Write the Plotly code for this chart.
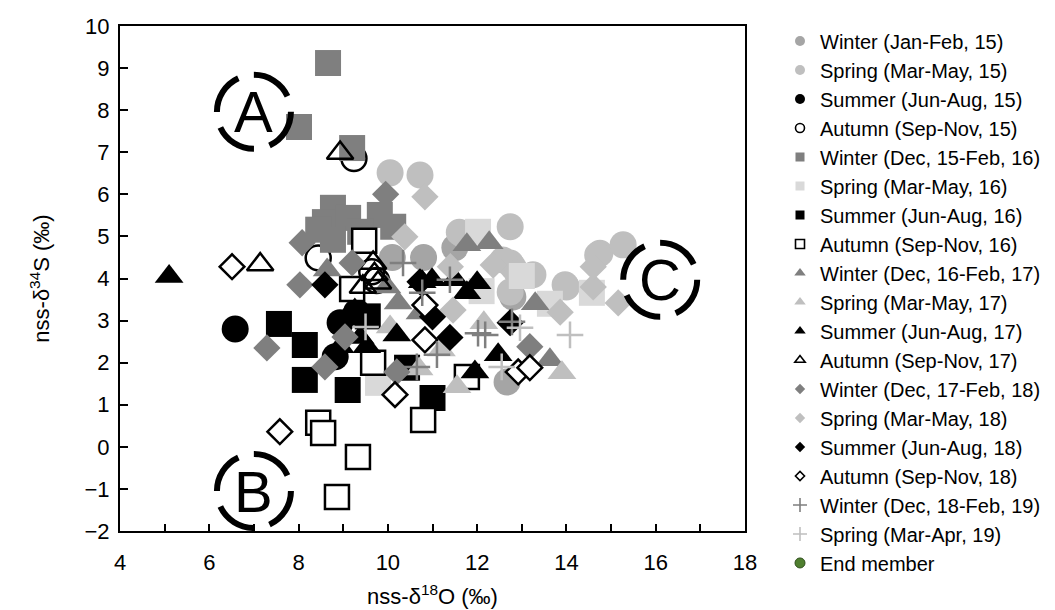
import plotly.graph_objects as go

# ---------------- data (x = nss-δ18O, y = nss-δ34S) ----------------
winter15_x = [10.1, 11.5, 12.8, 12.67, 10.8]
winter15_y = [4.5, 4.73, 3.56, 1.54, 4.5]
spring15_x = [10.05, 10.72, 12.74, 14.75, 15.27, 13.97, 12.8, 13.25, 11.68, 12.74, 14.0, 14.7, 11.6, 12.58, 12.9, 12.74]
spring15_y = [6.51, 6.46, 5.23, 4.6, 4.8, 3.85, 4.28, 4.09, 5.04, 4.37, 3.8, 4.56, 5.1, 4.44, 4.13, 3.68]
summer15_x = [6.58, 8.93, 8.82, 9.3]
summer15_y = [2.8, 2.95, 2.14, 3.2]
autumn15_x = [9.24, 8.44, 9.64, 9.75]
autumn15_y = [6.85, 4.49, 4.16, 3.95]

winter16_x = [8.66, 8.01, 9.2, 8.77, 8.59, 8.44, 9.11, 9.82, 10.12, 8.77, 9.38]
winter16_y = [9.12, 7.6, 7.1, 5.68, 5.34, 5.16, 5.44, 5.51, 5.23, 4.92, 5.11]
spring16_x = [12.02, 14.57, 13.0, 13.63, 9.78, 12.1]
spring16_y = [5.11, 3.66, 4.06, 3.4, 1.52, 3.7]
summer16_x = [7.56, 8.14, 8.14, 9.1, 10.43, 11.0, 9.55]
summer16_y = [2.92, 2.42, 1.59, 1.35, 1.88, 1.16, 3.1]
autumn16_x = [9.47, 9.2, 8.44, 8.55, 9.33, 8.86, 10.79, 11.77, 9.67]
autumn16_y = [4.9, 3.75, 0.57, 0.33, -0.24, -1.19, 0.64, 1.66, 2.0]

winter17_x = [11.77, 12.27, 13.3, 13.63, 8.64, 9.98, 10.23, 10.72]
winter17_y = [4.8, 4.85, 3.4, 2.07, 4.2, 3.8, 3.42, 3.18]
spring17_x = [13.9, 11.55, 12.15, 10.7, 10.05, 11.2]
spring17_y = [1.76, 1.43, 2.95, 1.85, 2.85, 2.3]
summer17_x = [5.1, 12.0, 10.99, 10.77, 11.5, 12.47, 11.95, 11.77, 10.2, 9.38, 9.26, 9.08, 8.93, 9.53]
summer17_y = [4.05, 3.9, 3.97, 3.92, 3.97, 2.19, 1.78, 3.66, 2.66, 2.6, 3.25, 3.09, 2.38, 2.38]
autumn17_x = [8.93, 7.14, 9.67, 9.78, 9.44, 9.7]
autumn17_y = [6.98, 4.33, 4.37, 3.9, 3.8, 4.1]

winter18_x = [9.95, 8.08, 8.03, 7.29, 9.2, 8.59, 10.2, 13.18, 9.04]
winter18_y = [6.0, 4.85, 3.85, 2.35, 4.37, 1.9, 1.78, 2.38, 2.61]
spring18_x = [10.83, 14.6, 15.16, 13.86, 14.6, 10.38, 11.4, 12.36, 11.46]
spring18_y = [5.94, 3.8, 3.42, 3.2, 4.28, 4.99, 4.28, 4.32, 3.25]
summer18_x = [8.59, 10.72, 12.74, 11.39, 11.0]
summer18_y = [3.85, 3.92, 2.95, 2.6, 3.09]
autumn18_x = [6.51, 7.58, 10.16, 10.83, 10.83, 12.92, 13.18]
autumn18_y = [4.28, 0.36, 1.24, 3.37, 2.54, 1.78, 1.88]

winter19_x = [10.34, 10.77, 11.39, 12.02, 12.18, 10.65, 12.78, 11.1]
winter19_y = [4.37, 3.66, 3.97, 2.7, 2.66, 1.9, 2.97, 2.19]
spring19_x = [14.08, 12.96, 12.55, 9.5]
spring19_y = [2.66, 2.83, 1.9, 2.85]

labels = [
    "Winter (Jan-Feb, 15)", "Spring (Mar-May, 15)", "Summer (Jun-Aug, 15)", "Autumn (Sep-Nov, 15)",
    "Winter (Dec, 15-Feb, 16)", "Spring (Mar-May, 16)", "Summer (Jun-Aug, 16)", "Autumn (Sep-Nov, 16)",
    "Winter (Dec, 16-Feb, 17)", "Spring (Mar-May, 17)", "Summer (Jun-Aug, 17)", "Autumn (Sep-Nov, 17)",
    "Winter (Dec, 17-Feb, 18)", "Spring (Mar-May, 18)", "Summer (Jun-Aug, 18)", "Autumn (Sep-Nov, 18)",
    "Winter (Dec, 18-Feb, 19)", "Spring (Mar-Apr, 19)", "End member",
]
xs = [winter15_x, spring15_x, summer15_x, autumn15_x,
      winter16_x, spring16_x, summer16_x, autumn16_x,
      winter17_x, spring17_x, summer17_x, autumn17_x,
      winter18_x, spring18_x, summer18_x, autumn18_x,
      winter19_x, spring19_x]
ys = [winter15_y, spring15_y, summer15_y, autumn15_y,
      winter16_y, spring16_y, summer16_y, autumn16_y,
      winter17_y, spring17_y, summer17_y, autumn17_y,
      winter18_y, spring18_y, summer18_y, autumn18_y,
      winter19_y, spring19_y]

region_labels = ["A", "B", "C"]
region_x = [7.0, 7.0, 16.1]
region_y = [7.96, -1.05, 3.97]

# ---------------- styles ----------------
MID, LIGHT, PALE = "#7f7f7f", "#bfbfbf", "#d9d9d9"
styles = [
    ("circle", 27, "#a5a5a5", None, 0),
    ("circle", 27, LIGHT, None, 0),
    ("circle", 27, "#000000", None, 0),
    ("circle", 25, "rgba(0,0,0,0)", "#000000", 2.5),
    ("square", 26, MID, None, 0),
    ("square", 26, PALE, None, 0),
    ("square", 26, "#000000", None, 0),
    ("square", 24, "#ffffff", "#000000", 2.5),
    ("triangle-up", 25, MID, None, 0),
    ("triangle-up", 25, LIGHT, None, 0),
    ("triangle-up", 25, "#000000", None, 0),
    ("triangle-up", 23, "rgba(0,0,0,0)", "#000000", 2.5),
    ("diamond", 21, MID, None, 0),
    ("diamond", 21, LIGHT, None, 0),
    ("diamond", 21, "#000000", None, 0),
    ("diamond", 19, "#ffffff", "#000000", 2.5),
    ("cross-thin", 19, MID, MID, 2.5),
    ("cross-thin", 19, LIGHT, LIGHT, 2.5),
]
legend_sizes = [10, 10, 10, 9, 9, 9, 9, 9, 10, 10, 10, 9, 8, 8, 8, 7, 10, 10]

fig = go.Figure()
for (sym, size, col, lcol, lw), x, y in zip(styles, xs, ys):
    fig.add_trace(go.Scatter(
        x=x, y=y, mode="markers", showlegend=False, hoverinfo="x+y",
        marker=dict(symbol=sym, size=size, color=col,
                    line=dict(color=lcol or col, width=lw)),
    ))

# legend entries (small symbols like the reference)
for i, ((sym, size, col, lcol, lw), name) in enumerate(zip(styles, labels[:-1])):
    fig.add_trace(go.Scatter(
        x=[None], y=[None], mode="markers", name=name, showlegend=True,
        marker=dict(symbol=sym, size=legend_sizes[i], color=col,
                    line=dict(color=lcol or col, width=min(lw, 1.6))),
    ))
fig.add_trace(go.Scatter(
    x=[None], y=[None], mode="markers", name=labels[-1],
    marker=dict(symbol="circle", size=10, color="#4f7f2f",
                line=dict(color="#2f4f1c", width=1)),
))

# dashed region rings and letters
for lab, cx, cy in zip(region_labels, region_x, region_y):
    fig.add_shape(type="circle", xref="x", yref="y",
                  xsizemode="pixel", ysizemode="pixel",
                  xanchor=cx, yanchor=cy, x0=-37, x1=37, y0=-37, y1=37,
                  line=dict(color="black", width=6, dash="42px,16px"))
    fig.add_annotation(x=cx, y=cy, text=lab, showarrow=False,
                       font=dict(size=58, color="black",
                                 family="Liberation Sans, Arial, sans-serif"),
                       xanchor="center", yanchor="middle")

FONT = "Liberation Sans, Arial, sans-serif"
fig.update_layout(
    width=1047, height=602,
    margin=dict(l=112, r=310, t=18, b=79, autoexpand=False),
    paper_bgcolor="white", plot_bgcolor="white",
    font=dict(family=FONT, color="black", size=22),
    legend=dict(x=1.056, y=1.009, xanchor="left", yanchor="top",
                font=dict(size=20, family=FONT), itemsizing="trace",
                bgcolor="rgba(0,0,0,0)", tracegroupgap=0, maxheight=600),
)
fig.update_xaxes(
    range=[4, 18], dtick=2, tick0=4, showgrid=False, zeroline=False,
    showline=True, linecolor="black", linewidth=2, mirror=True,
    ticks="inside", ticklen=7, tickwidth=1.5, tickcolor="black",
    minor=dict(dtick=1, ticks="inside", ticklen=7, tickwidth=1.5, tickcolor="black"),
    tickfont=dict(size=22), ticklabelstandoff=11,
    title=dict(text="nss-δ<sup>18</sup>O (‰)", font=dict(size=22), standoff=14),
)
fig.update_yaxes(
    range=[-2, 10], dtick=1, showgrid=False, zeroline=False,
    showline=True, linecolor="black", linewidth=2, mirror=True,
    ticks="inside", ticklen=8, tickwidth=1.5, tickcolor="black",
    tickfont=dict(size=22), ticklabelstandoff=4,
    title=dict(text="nss-δ<sup>34</sup>S (‰)", font=dict(size=22), standoff=29),
)

fig.write_html("out.html")
